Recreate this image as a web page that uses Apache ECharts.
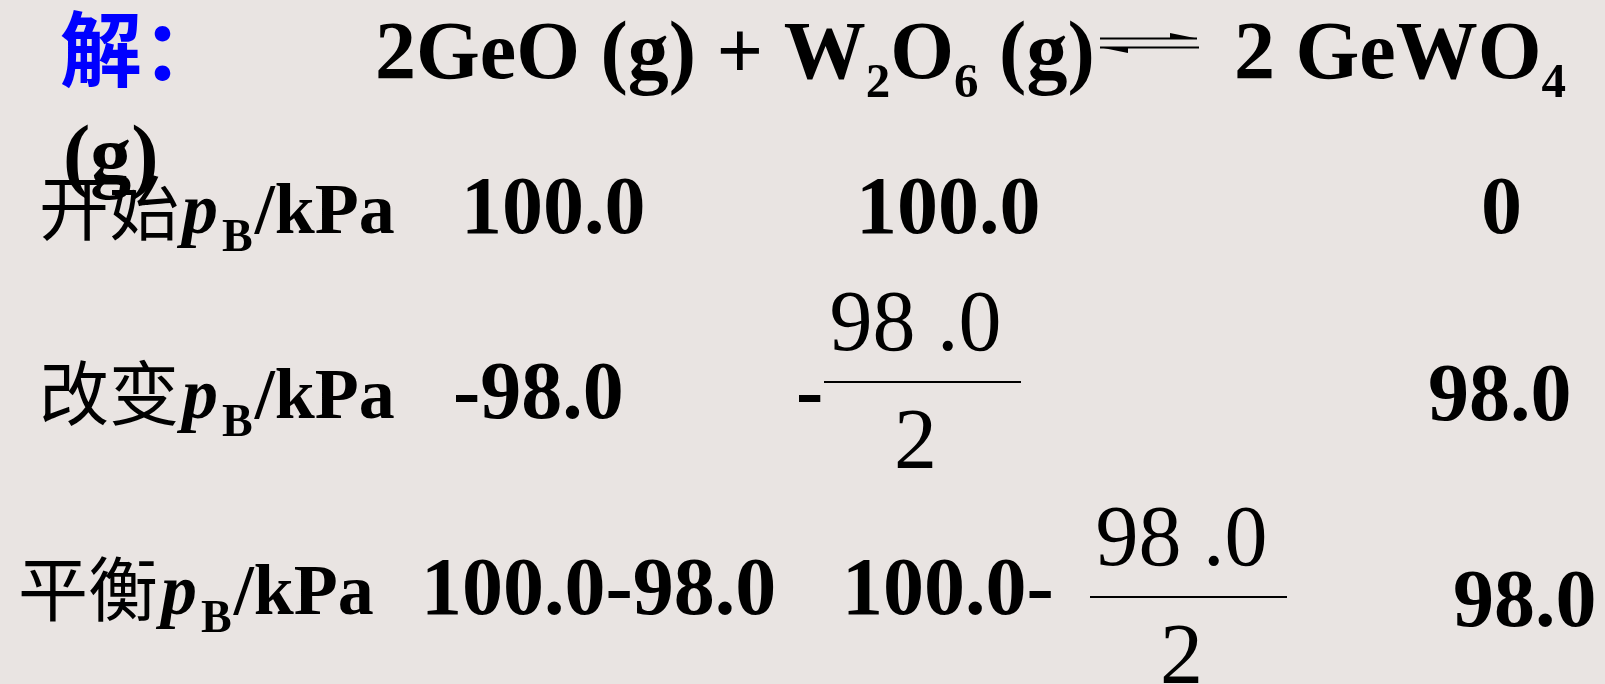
<!DOCTYPE html>
<html>
<head>
<meta charset="utf-8">
<script src="https://cdn.jsdelivr.net/npm/echarts@6/dist/echarts.min.js"></script>
<style>
  html, body { margin: 0; padding: 0; background: #e9e4e2; }
  #main { width: 1605px; height: 684px; }
</style>
</head>
<body>
<div id="main"></div>
<script>
// equation text
const solveLabel = '解：'
const reactants = [['2GeO (g) + W', 0], ['2', 1], ['O', 0], ['6', 1], [' (g)', 0]]
const products = [['2 GeWO', 0], ['4', 1]]
const wrapTail = '(g)'

// table rows
const rowNames = ['开始', '改变', '平衡']
const unitP = 'p'
const unitSub = 'B'
const unitTail = '/kPa'
const geoCol = ['100.0', '-98.0', '100.0-98.0']
const w2o6Lead = ['100.0', '-', '100.0-']
const w2o6Num = ['', '98 .0', '98 .0']
const w2o6Den = ['', '2', '2']
const gewo4Col = ['0', '98.0', '98.0']

const SERIF = '"Liberation Serif", "Times New Roman", serif'
const CJK = '"Noto Sans CJK SC", sans-serif'

const mctx = document.createElement('canvas').getContext('2d')
function fontStr(f) {
  return (f.style || 'normal') + ' ' + (f.weight || 'normal') + ' ' + f.size + 'px ' + f.family
}
function measure(text, f) {
  const font = fontStr(f)
  mctx.font = font
  mctx.textBaseline = 'alphabetic'
  const w = mctx.measureText(text).width
  const a = mctx.measureText('Hg').actualBoundingBoxAscent
  mctx.textBaseline = 'middle'
  const b = mctx.measureText('Hg').actualBoundingBoxAscent
  return { w: w, mid: a - b }
}

const elements = []
// put one text run with its baseline at y, returns x at the end
function put(text, x, base, f, fill) {
  const m = measure(text, f)
  elements.push({
    type: 'text',
    x: x,
    y: base - m.mid,
    silent: true,
    style: {
      text: text,
      fontSize: f.size,
      fontFamily: f.family,
      fontWeight: f.weight || 'normal',
      fontStyle: f.style || 'normal',
      fill: fill || '#000',
      align: 'left',
      verticalAlign: 'middle',
      textAlign: 'left',
      textVerticalAlign: 'middle'
    }
  })
  return x + m.w
}

const big = { size: 82, family: SERIF, weight: 'bold' }
const sub = { size: 49, family: SERIF, weight: 'bold' }
const lab = { size: 72, family: SERIF, weight: 'bold' }
const labIt = { size: 72, family: SERIF, weight: 'bold', style: 'italic' }
const labSub = { size: 46, family: SERIF, weight: 'bold' }
const cjk = { size: 70, family: CJK }
const frac = { size: 86, family: SERIF }

function runs(parts, x, base) {
  parts.forEach(function (p) {
    x = p[1] ? put(p[0], x, base + 19, sub) : put(p[0], x, base, big)
  })
  return x
}

// header line
put(solveLabel, 60, 80, { size: 82, family: CJK, weight: 'bold' }, '#0000ff')
runs(reactants, 375, 78)
runs(products, 1234, 78)
put(wrapTail, 63, 182, big)

// equilibrium harpoons
elements.push(
  { type: 'line', silent: true, shape: { x1: 1100, y1: 38.5, x2: 1197, y2: 38.5 }, style: { stroke: '#000', lineWidth: 2 } },
  { type: 'polygon', silent: true, shape: { points: [[1197, 38.5], [1170, 38.5], [1170, 33]] }, style: { fill: '#000' } },
  { type: 'line', silent: true, shape: { x1: 1100, y1: 47.5, x2: 1199, y2: 47.5 }, style: { stroke: '#000', lineWidth: 2 } },
  { type: 'polygon', silent: true, shape: { points: [[1101, 47.5], [1128, 47.5], [1128, 53]] }, style: { fill: '#000' } }
)

// row layout
const rowBase = [233, 418, 614]
const labelX = [39, 39, 18]
const geoX = [461, 453, 421]
const w2o6X = [856, 796, 842]
const fracX = [0, 824, 1090]
const fracY = [0, 382, 597]
const fracLen = 197
const gewo4X = [1481, 1428, 1453]
const gewo4Base = [233, 420, 626]

rowNames.forEach(function (name, i) {
  const base = rowBase[i]
  let x = put(name, labelX[i], base + 2, cjk)
  x = put(unitP, x + 3, base, labIt)
  x = put(unitSub, x + 4, base + 18, labSub)
  put(unitTail, x + 2, base, lab)

  put(geoCol[i], geoX[i], base, big)
  put(w2o6Lead[i], w2o6X[i], base, big)
  if (w2o6Num[i]) {
    const x0 = fracX[i]
    const ly = fracY[i]
    const numW = measure(w2o6Num[i], frac).w
    const c = x0 + fracLen / 2 - 7
    put(w2o6Num[i], c - numW / 2, ly - 32, frac)
    const denW = measure(w2o6Den[i], frac).w
    put(w2o6Den[i], c - denW / 2, ly + 86, frac)
    elements.push({
      type: 'line', silent: true,
      shape: { x1: x0, y1: ly, x2: x0 + fracLen, y2: ly },
      style: { stroke: '#000', lineWidth: 2 }
    })
  }
  put(gewo4Col[i], gewo4X[i], gewo4Base[i], big)
})

const chart = echarts.init(document.getElementById('main'))
chart.setOption({
  backgroundColor: '#e9e4e2',
  animation: false,
  graphic: { elements: elements }
})
</script>
</body>
</html>
